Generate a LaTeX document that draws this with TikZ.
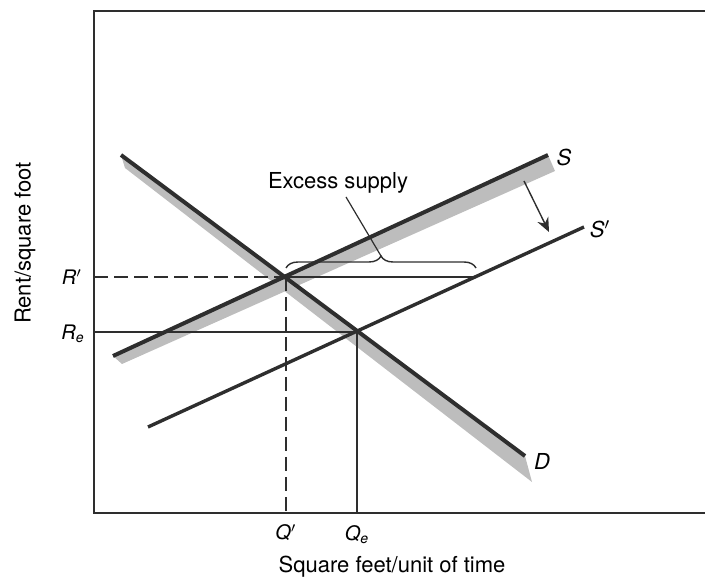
\documentclass[tikz,border=0pt]{standalone}
\usepackage{fontspec}
\setmainfont{TeX Gyre Heros}
\usetikzlibrary{arrows.meta,decorations.pathreplacing}
\definecolor{bandgray}{gray}{0.74}
\definecolor{ink}{gray}{0.18}
\begin{document}
\begin{tikzpicture}[x=0.5pt,y=-0.5pt,
    curveline/.style={ink,line width=2pt},
    guideline/.style={ink,line width=0.55pt},
    ticklabel/.style={font=\fontsize{10}{11}\selectfont\itshape},
    curvelabel/.style={font=\fontsize{11}{12}\selectfont\itshape},
    axislabel/.style={font=\fontsize{11}{13}\selectfont}]
    \useasboundingbox (0,0) rectangle (705,581);
    \def\Rp{277}  % R'
    \def\Re{332}  % R_e
    \def\Qp{286}  % Q'
    \def\Qe{357}  % Q_e

    % frame
    \draw[ink,line width=1.3pt] (705,11) -- (94,11) -- (94,513) -- (705,513);

    % curves
    \coordinate (d1) at (121,155);
    \coordinate (d2) at (525,456);
    \coordinate (s1) at (113,356);
    \coordinate (s2) at (548,155);
    \coordinate (t1) at (148,427);
    \coordinate (t2) at (584,227);
    \coordinate (rp) at (\Qp,\Rp);
    \coordinate (ep) at (\Qe,\Re);

    \fill[bandgray] (d1) -- (d2) -- (532,482) -- (125,168) -- cycle;
    \fill[bandgray] (s1) -- (s2) -- (555,171) -- (122,364) -- cycle;

    % guide lines
    \draw[guideline,dash pattern=on 7pt off 3pt] (94,\Rp) -- (rp);
    \draw[guideline] (rp) -- (475,\Rp);
    \draw[guideline,dash pattern=on 7pt off 3pt] (rp) -- (\Qp,513);
    \draw[guideline] (94,\Re) -- (ep) -- (\Qe,513);

    \draw[curveline] (d1) -- (d2);
    \draw[curveline] (s1) -- (s2);
    \draw[curveline,line width=1.7pt] (t1) -- (t2);

    % shift of supply
    \coordinate (a1) at (524,181);
    \coordinate (a2) at (549,232);
    \draw[ink,line width=0.7pt,-{Stealth[length=7pt,width=6pt]}] (a1) -- (a2);

    % excess supply
    \draw[ink,line width=0.7pt,decorate,decoration={brace,amplitude=6pt}]
        (\Qp,268) -- (476,268);
    \coordinate (bt) at (381,256);
    \node[axislabel] (xs) at (338,183) {Excess supply};
    \draw[ink,line width=0.6pt] (346,197) -- (bt);

    % labels
    \node[curvelabel] (ls) at (564,157) {S};
    \node[curvelabel] (lt) at (600,229) {S$'$};
    \node[curvelabel] (ld) at (542,461) {D};
    \node[ticklabel] (lrp) at (72,\Rp) {R$'$};
    \node[ticklabel] (lre) at (73,334) {R\textsubscript{e}};
    \node[ticklabel] (lqp) at (\Qp,533) {Q$'$};
    \node[ticklabel] (lqe) at (\Qe,535) {Q\textsubscript{e}};
    \node[axislabel] (xl) at (392,567) {Square feet/unit of time};
    \node[axislabel,rotate=90] (yl) at (25,243) {Rent/square foot};
\end{tikzpicture}
\end{document}
